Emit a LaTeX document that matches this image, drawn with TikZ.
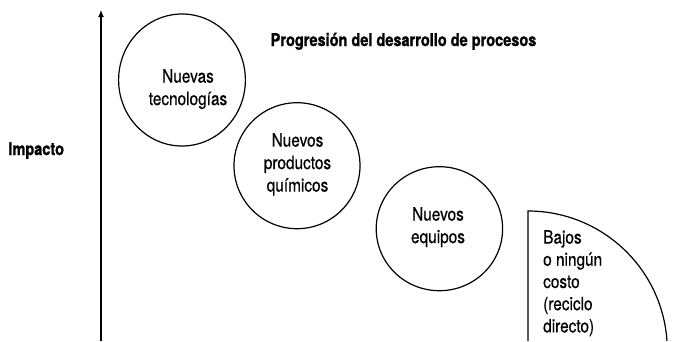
\documentclass[tikz,border=0pt]{standalone}
\usepackage{fontspec}
\setmainfont{TeX Gyre Heros}
\newfontfamily\labfont{TeX Gyre Heros}[FakeStretch=0.84,FakeBold=0.5]
\newfontfamily\ttlfont{TeX Gyre Heros}[FakeStretch=0.83,BoldFeatures={FakeBold=1.3}]
\usetikzlibrary{shapes.geometric,arrows.meta}
\begin{document}
\begin{tikzpicture}[x=1pt,y=-1pt,
  bubble/.style={ellipse,draw,line width=1.2pt,inner sep=0pt},
  lab/.style={inner sep=0pt,align=center,font=\labfont\fontsize{18.3}{22.5}\selectfont},
  labl/.style={inner sep=0pt,align=left,font=\labfont\fontsize{18.3}{22.2}\selectfont},
  ttl/.style={inner sep=0pt,font=\ttlfont\bfseries\fontsize{17.5}{20}\selectfont}]
\useasboundingbox (0,0) rectangle (680,341);
% axis
\coordinate (axb) at (101,341);
\coordinate (axt) at (101,10);
\draw[line width=1.2pt,-{Latex[length=7pt,width=6pt]}] (axb) -- (axt);
% bubbles
\node[bubble,minimum width=126.8pt,minimum height=132pt] (c1) at (182,80) {};
\node[bubble,minimum width=126pt,minimum height=126pt] (c2) at (297,165.7) {};
\node[bubble,minimum width=126.4pt,minimum height=124pt] (c3) at (439.4,228.7) {};
% labels
\node[lab,anchor=north] (t1) at (188,69) {Nuevas\\tecnologías};
\node[lab,anchor=north] (t2) at (297.5,133) {Nuevos\\productos\\químicos};
\node[lab,anchor=north] (t3) at (438,207) {Nuevos\\equipos};
% quarter shape
\coordinate (qb) at (528,341);
\coordinate (qt) at (528,211);
\draw[line width=1.2pt] (qb) -- (qt) arc[start angle=-90,end angle=-3.83,radius=139.3];
\node[labl,anchor=north west] (t4) at (543,230) {Bajos\\o ningún\\costo\\(reciclo\\directo)};
% titles
\node[ttl,anchor=base] (title) at (403.5,46) {Progresión del desarrollo de procesos};
\node[ttl,anchor=base] (imp) at (36.2,155) {Impacto};
\end{tikzpicture}
\end{document}
